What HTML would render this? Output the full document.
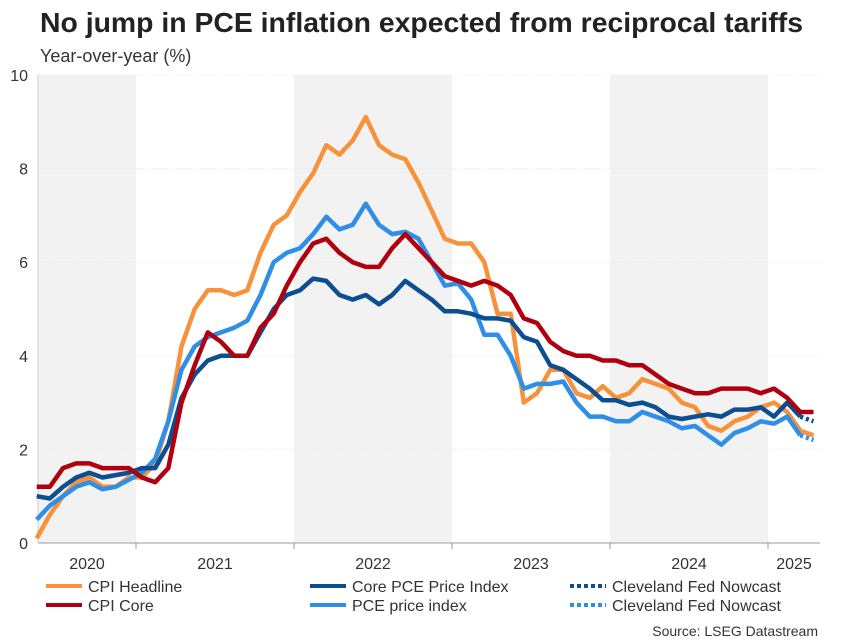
<!DOCTYPE html>
<html><head><meta charset="utf-8"><style>
body{margin:0;background:#fff;font-family:"Liberation Sans",sans-serif;}
#wrap{position:relative;width:853px;height:640px;overflow:hidden;}
</style></head><body>
<div id="wrap">
<svg id="svg" width="853" height="640" xmlns="http://www.w3.org/2000/svg">
<text x="40" y="32" font-size="28" font-weight="bold" fill="#222" textLength="763" lengthAdjust="spacingAndGlyphs">No jump in PCE inflation expected from reciprocal tariffs</text>
<text x="40" y="62" font-size="18" fill="#333">Year-over-year (%)</text>
<g id="bands"></g><g id="grid"></g><g id="axes"></g><g id="series"></g><g id="legend"></g>
<text x="818" y="636" font-size="14" fill="#333" text-anchor="end">Source: LSEG Datastream</text>
</svg></div>
<script>
const years=["2020","2021","2022","2023","2024","2025"];
const yTicks=[0,2,4,6,8,10];
const startMonth=4; // May 2020
const cpiHeadline=[0.1,0.6,1.0,1.3,1.4,1.2,1.2,1.4, 1.4,1.7,2.6,4.2,5.0,5.4,5.4,5.3,5.4,6.2,6.8,7.0, 7.5,7.9,8.5,8.3,8.6,9.1,8.5,8.3,8.2,7.7,7.1,6.5, 6.4,6.4,6.0,4.9,4.9,3.0,3.2,3.7,3.7,3.2,3.1,3.35, 3.1,3.2,3.5,3.4,3.3,3.0,2.9,2.5,2.4,2.6,2.7,2.9, 3.0,2.8,2.4,2.3];
const cpiCore=[1.2,1.2,1.6,1.7,1.7,1.6,1.6,1.6, 1.4,1.3,1.6,3.0,3.8,4.5,4.3,4.0,4.0,4.6,4.9,5.5, 6.0,6.4,6.5,6.2,6.0,5.9,5.9,6.3,6.6,6.3,6.0,5.7, 5.6,5.5,5.6,5.5,5.3,4.8,4.7,4.3,4.1,4.0,4.0,3.9, 3.9,3.8,3.8,3.6,3.4,3.3,3.2,3.2,3.3,3.3,3.3,3.2, 3.3,3.1,2.8,2.8];
const corePce=[1.0,0.95,1.2,1.4,1.5,1.4,1.45,1.5, 1.6,1.6,2.1,3.1,3.6,3.9,4.0,4.0,4.0,4.5,5.0,5.3, 5.4,5.65,5.6,5.3,5.2,5.3,5.1,5.3,5.6,5.4,5.2,4.95, 4.95,4.9,4.8,4.8,4.75,4.4,4.3,3.8,3.7,3.5,3.3,3.05, 3.05,2.95,3.0,2.9,2.7,2.65,2.7,2.75,2.7,2.85,2.85,2.9, 2.7,3.0,2.7];
const pce=[0.5,0.8,1.0,1.2,1.3,1.15,1.2,1.35, 1.5,1.8,2.6,3.7,4.2,4.4,4.5,4.6,4.75,5.3,6.0,6.2, 6.3,6.6,6.97,6.7,6.8,7.25,6.8,6.6,6.65,6.5,6.0,5.5, 5.55,5.2,4.45,4.45,4.0,3.3,3.4,3.4,3.45,3.0,2.7,2.7, 2.6,2.6,2.8,2.7,2.6,2.45,2.5,2.3,2.1,2.35,2.45,2.6, 2.55,2.7,2.3];
const nowCore=[2.7,2.6]; const nowPce=[2.3,2.2]; const nowStart=62;
const NS="http://www.w3.org/2000/svg";
const X0=38,X1=820,Y0=543,Y1=75;
const monthW=158/12;
function xm(m){return 136+(m-12)*monthW+6;}
function y(v){return Y0-(v-0)/(10-0)*(Y0-Y1);}
function mk(tag,attrs,parent,text){const e=document.createElementNS(NS,tag);for(const k in attrs)e.setAttribute(k,attrs[k]);if(text!==undefined)e.textContent=text;document.getElementById(parent).appendChild(e);return e;}
years.forEach((yr,i)=>{
 const bs=Math.max(X0,136+(i-1)*158), be=Math.min(X1,136+i*158);
 if(i%2===0){const r=mk('rect',{x:bs,y:Y1,width:be-bs,height:Y0-Y1,fill:'#f2f2f2'},'bands');
  }
 const t=mk('text',{x:(bs+be)/2,y:Y0+26,'font-size':16,fill:'#333','text-anchor':'middle'},'axes',yr);
 
 if(i>0){const l=mk('line',{x1:bs,x2:bs,y1:Y0,y2:Y0+6,stroke:'#999'},'axes');
  }
});
yTicks.forEach(v=>{
 if(v>0){const g=mk('line',{x1:X0,x2:X1,y1:y(v),y2:y(v),stroke:'#e4e4e4','stroke-dasharray':'1 2'},'grid');
  }
 const t=mk('text',{x:28,y:y(v)+6,'font-size':16,fill:'#333','text-anchor':'end'},'axes',v);
 
});
const ax=mk('line',{x1:X0,x2:X1,y1:Y0,y2:Y0,stroke:'#999'},'axes');

const ay=mk('line',{x1:X0,x2:X0,y1:Y1,y2:Y0,stroke:'#ccc'},'axes');

function line(vals,start,color,name,dash){
 const pts=vals.map((v,i)=>xm(start+i).toFixed(1)+','+y(v).toFixed(1)).join(' ');
 const p=mk('polyline',{points:pts,fill:'none',stroke:color,'stroke-width':4.5,'stroke-linejoin':'round'},'series');
 if(dash)p.setAttribute('stroke-dasharray',dash);
 
}
line(cpiHeadline,startMonth,'#f7923a','cpi-headline-line');
line(pce,startMonth,'#2f8fe6','pce-line');
line(corePce,startMonth,'#0b4f91','core-pce-line');
line(cpiCore,startMonth,'#b00010','cpi-core-line');
line(nowCore,nowStart,'#0b4f91','nowcast-core-line','3 3');
line(nowPce,nowStart,'#2f8fe6','nowcast-pce-line','3 3');
const leg=[["CPI Headline",'#f7923a',46,592,''],["CPI Core",'#b00010',46,611,''],["Core PCE Price Index",'#0b4f91',310,592,''],["PCE price index",'#2f8fe6',310,611,''],["Cleveland Fed Nowcast",'#0b4f91',570,592,'4 3'],["Cleveland Fed Nowcast",'#2f8fe6',570,611,'4 3']];
leg.forEach(l=>{
 const ln=mk('line',{x1:l[2],x2:l[2]+36,y1:l[3]-6,y2:l[3]-6,stroke:l[1],'stroke-width':4},'legend');
 if(l[4])ln.setAttribute('stroke-dasharray',l[4]);
 
 const t=mk('text',{x:l[2]+42,y:l[3],'font-size':16,fill:'#333'},'legend',l[0]);
 
});
</script>
</body></html>
